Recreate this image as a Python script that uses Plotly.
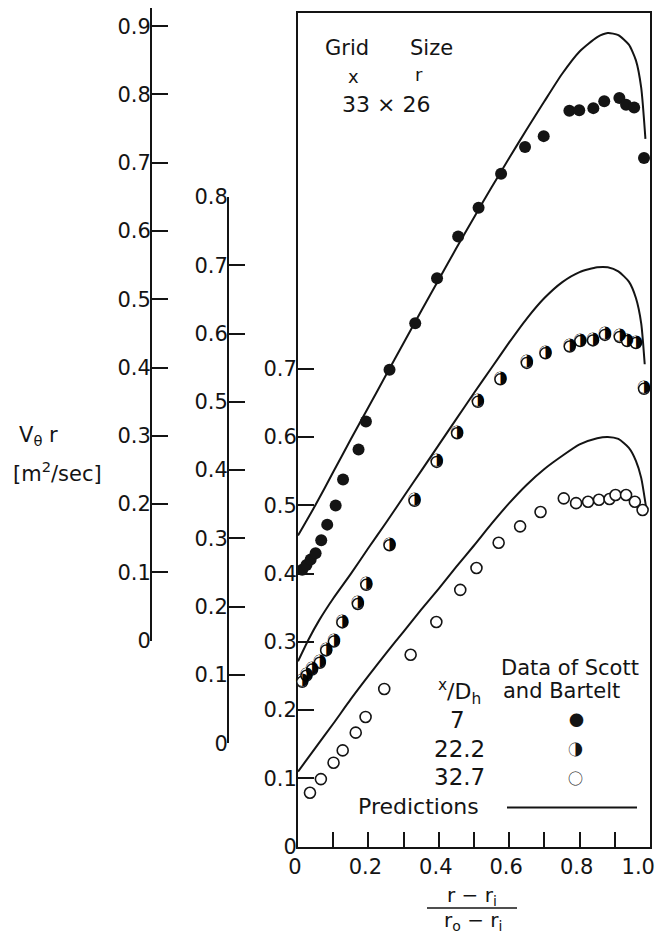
import plotly.graph_objects as go

# The page adds an 8 px body margin, so the figure is drawn 8 px smaller and
# every reference pixel position is shifted by that margin.
OX, OY = 8, 8
W, H = 663 - OX, 938 - OY
FONT = "DejaVu Sans"
GLYPH_FONT = "Noto Sans CJK JP, DejaVu Sans"
INK = "#141414"

# ---------------- data (each series in its own axis units) ----------------
# x/Dh = 7  (left-most axis, 0 ... 0.9)
x7_data = [0.012, 0.024, 0.036, 0.050, 0.066, 0.083, 0.107, 0.128, 0.172, 0.193,
           0.260, 0.333, 0.395, 0.455, 0.513, 0.577, 0.645, 0.698, 0.771, 0.799,
           0.839, 0.870, 0.913, 0.932, 0.955, 0.983]
v7_data = [0.104, 0.111, 0.119, 0.128, 0.147, 0.170, 0.198, 0.236, 0.280, 0.321,
           0.397, 0.465, 0.531, 0.592, 0.634, 0.684, 0.723, 0.739, 0.776, 0.777,
           0.780, 0.790, 0.795, 0.785, 0.781, 0.707]
x7_pred = [0, 0.05, 0.1, 0.15, 0.2, 0.25, 0.3, 0.35, 0.4, 0.45, 0.5, 0.55, 0.6,
           0.65, 0.7, 0.75, 0.8, 0.85, 0.88, 0.91, 0.94, 0.96, 0.975, 0.987]
v7_pred = [0.154, 0.199, 0.247, 0.295, 0.342, 0.389, 0.436, 0.483, 0.529, 0.575,
           0.620, 0.664, 0.707, 0.749, 0.790, 0.830, 0.863, 0.884, 0.890, 0.887,
           0.873, 0.850, 0.810, 0.735]

# x/Dh = 22.2  (middle axis, 0 ... 0.8)
x22_data = [0.012, 0.024, 0.040, 0.062, 0.080, 0.102, 0.126, 0.170, 0.194, 0.260,
            0.331, 0.394, 0.452, 0.511, 0.575, 0.650, 0.703, 0.772, 0.802, 0.838,
            0.872, 0.914, 0.935, 0.960, 0.983]
v22_data = [0.090, 0.099, 0.108, 0.118, 0.136, 0.149, 0.177, 0.204, 0.232, 0.290,
            0.355, 0.412, 0.454, 0.500, 0.533, 0.557, 0.571, 0.581, 0.589, 0.590,
            0.598, 0.595, 0.589, 0.586, 0.519]
x22_pred = [0, 0.03, 0.06, 0.1, 0.15, 0.2, 0.25, 0.3, 0.35, 0.4, 0.45, 0.5, 0.55,
            0.6, 0.65, 0.7, 0.75, 0.8, 0.85, 0.88, 0.91, 0.94, 0.96, 0.975, 0.985]
v22_pred = [0.120, 0.152, 0.180, 0.212, 0.248, 0.286, 0.323, 0.361, 0.399, 0.437,
            0.475, 0.513, 0.550, 0.587, 0.622, 0.652, 0.675, 0.690, 0.697, 0.697,
            0.691, 0.676, 0.652, 0.615, 0.555]

# x/Dh = 32.7  (main axis, 0 ... 0.7)
x32_data = [0.034, 0.065, 0.101, 0.127, 0.164, 0.192, 0.245, 0.320, 0.393, 0.461,
            0.507, 0.570, 0.631, 0.689, 0.755, 0.790, 0.824, 0.855, 0.885, 0.902,
            0.932, 0.957, 0.979]
v32_data = [0.079, 0.099, 0.123, 0.141, 0.167, 0.190, 0.231, 0.281, 0.329, 0.376,
            0.408, 0.445, 0.469, 0.490, 0.510, 0.503, 0.505, 0.508, 0.509, 0.515,
            0.515, 0.505, 0.493]
x32_pred = [0, 0.05, 0.1, 0.15, 0.2, 0.25, 0.3, 0.35, 0.4, 0.45, 0.5, 0.55, 0.6,
            0.65, 0.7, 0.75, 0.8, 0.85, 0.88, 0.91, 0.94, 0.96, 0.975, 0.99]
v32_pred = [0.110, 0.145, 0.180, 0.216, 0.250, 0.283, 0.315, 0.347, 0.378, 0.410,
            0.441, 0.473, 0.503, 0.530, 0.553, 0.572, 0.589, 0.598, 0.600, 0.597,
            0.584, 0.565, 0.540, 0.493]

x_ticks = [0, 0.1, 0.2, 0.3, 0.4, 0.5, 0.6, 0.7, 0.8, 0.9, 1.0]
# the last label carries trailing fixed-width spaces so it sits left of its
# tick, as in the original, and stays inside the page
x_ticktext = ["0", "", "0.2", "", "0.4", "", "0.6", "", "0.8", "",
              "1.0\u2007\u2009"]
y_main_ticks = [0, 0.1, 0.2, 0.3, 0.4, 0.5, 0.6, 0.7]
y_mid_ticks = [0, 0.1, 0.2, 0.3, 0.4, 0.5, 0.6, 0.7, 0.8]
y_left_ticks = [0, 0.1, 0.2, 0.3, 0.4, 0.5, 0.6, 0.7, 0.8, 0.9]


def lbl(v):
    return "0" if v == 0 else f"{v:.1f}"


# ---------------- geometry helpers (reference pixels -> paper) ----------------
def px(x):
    return (x - OX) / W


def py(y):
    return (H - (y - OY)) / H


SCALE = 683.0  # pixels per unit on all three vertical axes
main_bottom, main_top = 846.7, 13.0
mid_bottom = 743.3
left_bottom, left_top = 640.7, 8.0
mid_top = mid_bottom - 0.8 * SCALE
left_range_top = (left_bottom - left_top) / SCALE
main_range_top = (main_bottom - main_top) / SCALE

fig = go.Figure()

line_style = dict(color=INK, width=2, shape="spline", smoothing=0.6)

# predictions
fig.add_trace(go.Scatter(x=x7_pred, y=v7_pred, mode="lines", line=line_style,
                         xaxis="x", yaxis="y3", hoverinfo="skip"))
fig.add_trace(go.Scatter(x=x22_pred, y=v22_pred, mode="lines", line=line_style,
                         xaxis="x", yaxis="y2", hoverinfo="skip"))
fig.add_trace(go.Scatter(x=x32_pred, y=v32_pred, mode="lines", line=line_style,
                         xaxis="x", yaxis="y", hoverinfo="skip"))

# data
fig.add_trace(go.Scatter(x=x7_data, y=v7_data, mode="markers", cliponaxis=False,
                         marker=dict(symbol="circle", size=12, color=INK,
                                     line=dict(width=0)),
                         xaxis="x", yaxis="y3"))
# half-filled circles: white disc with outline + right-half black glyph
fig.add_trace(go.Scatter(x=x22_data, y=v22_data, mode="markers+text",
                         cliponaxis=False,
                         marker=dict(symbol="circle", size=11, color="white",
                                     line=dict(width=1.5, color=INK)),
                         text=["\u25D1"] * len(x22_data),
                         textposition="middle center",
                         textfont=dict(family=GLYPH_FONT, size=14,
                                       color="rgba(0,0,0,0.97)"),
                         xaxis="x", yaxis="y2"))
fig.add_trace(go.Scatter(x=x32_data, y=v32_data, mode="markers", cliponaxis=False,
                         marker=dict(symbol="circle", size=11, color="white",
                                     line=dict(width=1.6, color=INK)),
                         xaxis="x", yaxis="y"))

tickfont = dict(family=FONT, size=21, color=INK)
common_y = dict(showgrid=False, zeroline=False, showline=True, linecolor=INK,
                linewidth=2, ticks="inside", ticklen=16, tickwidth=2,
                tickcolor=INK, tickfont=tickfont, fixedrange=True,
                automargin=False, ticklabelstandoff=-5,
                ticklabeloverflow="allow")

fig.update_layout(
    template="none",
    width=W, height=H, autosize=False,
    margin=dict(l=0, r=0, t=0, b=0, pad=0),
    paper_bgcolor="white", plot_bgcolor="rgba(0,0,0,0)",
    showlegend=False,
    xaxis=dict(domain=[px(298), px(650)], range=[0, 1.0], anchor="y",
               showgrid=False, zeroline=False, showline=True, mirror=True,
               linecolor=INK, linewidth=2, ticks="inside", ticklen=15,
               tickwidth=2, tickcolor=INK, tickvals=x_ticks, ticktext=x_ticktext,
               tickfont=tickfont, fixedrange=True, automargin=False,
               ticklabeloverflow="allow", ticklabelshift=-3),
    yaxis=dict(domain=[py(main_bottom), py(main_top)], range=[0, main_range_top],
               anchor="x", mirror=True, tickvals=y_main_ticks,
               ticktext=[lbl(v) for v in y_main_ticks], **common_y),
    yaxis2=dict(domain=[py(mid_bottom), py(mid_top)], range=[0, 0.8001],
                anchor="free", position=px(228), side="left",
                tickvals=y_mid_ticks, ticktext=[lbl(v) for v in y_mid_ticks],
                **common_y),
    yaxis3=dict(domain=[py(left_bottom), min(1.0, py(left_top))],
                range=[0, left_range_top + 0.0003],
                anchor="free", position=px(151), side="left",
                tickvals=y_left_ticks + [left_range_top],
                ticktext=[lbl(v) for v in y_left_ticks] + [" "],
                **common_y),
)


def note(text, x, y, xanchor="left", size=20, family=FONT):
    fig.add_annotation(text=text, x=px(x), y=py(y), xref="paper", yref="paper",
                       xanchor=xanchor, yanchor="middle", showarrow=False,
                       font=dict(family=family, size=size, color=INK))


# grid size block
note("Grid", 323, 48, size=21)
note("Size", 408, 48, size=21)
note("x", 354, 76, xanchor="center", size=18)
note("r", 419, 75, xanchor="center", size=18)
note("33 \u00d7 26", 340, 105, size=22)

# legend block
note("Data of Scott", 499, 668, size=21)
note("and Bartelt", 501, 691, size=21)
note("<sup>x</sup>/D<sub>h</sub>", 460, 692, xanchor="center", size=22)
note("7", 457, 720, xanchor="center", size=23)
note("22.2", 459, 749, xanchor="center", size=23)
note("32.7", 459, 777, xanchor="center", size=23)
note("\u25CF", 576, 719, xanchor="center", size=15, family=GLYPH_FONT)
note("\u25D1", 575, 748, xanchor="center", size=15, family=GLYPH_FONT)
note("\u25CB", 575, 777, xanchor="center", size=15, family=GLYPH_FONT)
note("Predictions", 356, 806, size=22)
fig.add_shape(type="line", xref="paper", yref="paper",
              x0=px(507), x1=px(637), y0=py(807.5), y1=py(807.5),
              line=dict(color=INK, width=2))

# y title
note("V<sub>\u03b8</sub> r", 38, 436, xanchor="center", size=21)
note("[m<sup>2</sup>/sec]", 57, 472, xanchor="center", size=21)

# x title (fraction)
note("r \u2212 r<sub>i</sub>", 472, 896, xanchor="center", size=20)
fig.add_shape(type="line", xref="paper", yref="paper",
              x0=px(427), x1=px(517), y0=py(908), y1=py(908),
              line=dict(color=INK, width=1.6))
note("r<sub>o</sub> \u2212 r<sub>i</sub>", 473, 921, xanchor="center", size=20)

fig.write_html("out.html")
